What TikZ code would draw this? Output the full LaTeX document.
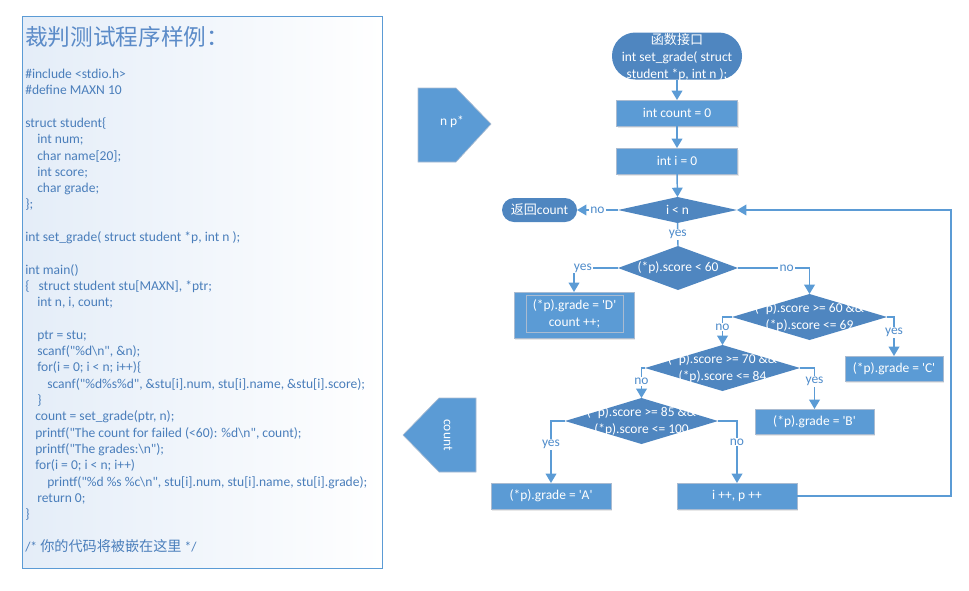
\documentclass[tikz,border=0pt]{standalone}
\usepackage{fontspec}
\setmainfont{Carlito}
\newfontfamily\cf{Carlito}
\newfontfamily\cjk{Noto Sans CJK SC}
\usetikzlibrary{shapes.geometric,arrows.meta,shadows}
\definecolor{lblue}{HTML}{5B9BD5}
\definecolor{dblue}{HTML}{4F86C0}
\definecolor{bedge}{HTML}{A9BBD1}
\definecolor{codec}{HTML}{4A7EBB}
\definecolor{titc}{HTML}{5B8BC8}
\definecolor{labc}{HTML}{4F8CCB}
\definecolor{panelbg}{HTML}{E4EDF8}
\begin{document}
\begin{tikzpicture}[x=0.75pt,y=-0.75pt,
  code/.style={anchor=base west, inner sep=0pt, text=codec, font=\cf\fontsize{10.15pt}{12pt}\selectfont},
  fc/.style={font=\cf\fontsize{10.1pt}{12.75pt}\selectfont},
  box/.style={rectangle, fill=lblue, draw=bedge, line width=0.75pt, inner sep=0pt, outer sep=0pt, text=white, align=center, fc,
    drop shadow={opacity=0.18, shadow xshift=1pt, shadow yshift=-1.2pt}},
  dia/.style={diamond, fill=dblue, draw=none, inner sep=0pt, outer sep=0pt},
  term/.style={rectangle, fill=dblue, draw=none, inner sep=0pt, outer sep=0pt, text=white, align=center, fc},
  wt/.style={text=white, align=center, inner sep=0pt, fc},
  lab/.style={fill=white, inner sep=0.8pt, text=labc, fc},
  conn/.style={draw=lblue, line width=1.1pt, -{Triangle[width=8pt,length=7pt]}},
  plain/.style={draw=lblue, line width=1.1pt},
]
\useasboundingbox (0,0) rectangle (969,590);

% ---------------- left panel ----------------
\draw[draw=lblue, line width=0.75pt, left color=panelbg, right color=white] (22.5,16) rectangle (382.5,568);
\node[anchor=west, inner sep=0pt, text=titc, font=\cjk\fontsize{17pt}{20pt}\selectfont] (title) at (25,37) {裁判测试程序样例：};

\node[code] (c1)  at (25,78.5)  {\#include <stdio.h>};
\node[code] (c2)  at (25,94.8)  {\#define MAXN 10};
\node[code] (c3)  at (25,127.4) {struct student\{};
\node[code] (c4)  at (37,143.7) {int num;};
\node[code] (c5)  at (37,160)   {char name[20];};
\node[code] (c6)  at (37,176.3) {int score;};
\node[code] (c7)  at (37,192.6) {char grade;};
\node[code] (c8)  at (25,208.9) {\};};
\node[code] (c9)  at (25,241.5) {int set\_grade( struct student *p, int n );};
\node[code] (c10) at (25,274.1) {int main()};
\node[code] (c11) at (25,290.4) {\makebox[10pt][l]{\{}struct student stu[MAXN], *ptr;};
\node[code] (c12) at (37,306.7) {int n, i, count;};
\node[code] (c13) at (37,339.3) {ptr = stu;};
\node[code] (c14) at (37,355.6) {scanf("\%d\textbackslash n", \&n);};
\node[code] (c15) at (37,371.9) {for(i = 0; i < n; i++)\{};
\node[code] (c16) at (47,388.2) {scanf("\%d\%s\%d", \&stu[i].num, stu[i].name, \&stu[i].score);};
\node[code] (c17) at (37,404.5) {\}};
\node[code] (c18) at (35,420.8) {count = set\_grade(ptr, n);};
\node[code] (c19) at (35,437.1) {printf("The count for failed (<60): \%d\textbackslash n", count);};
\node[code] (c20) at (35,453.4) {printf("The grades:\textbackslash n");};
\node[code] (c21) at (35,469.7) {for(i = 0; i < n; i++)};
\node[code] (c22) at (47,486)   {printf("\%d \%s \%c\textbackslash n", stu[i].num, stu[i].name, stu[i].grade);};
\node[code] (c23) at (37,502.3) {return 0;};
\node[code] (c24) at (25,518.6) {\}};
\node[code] (c25) at (25,551.2) {/* {\cjk\fontsize{10.6pt}{12pt}\selectfont 你的代码将被嵌在这里} */};

% ---------------- pentagons ----------------
\filldraw[fill=lblue, draw=bedge, line width=0.5pt] (418,88) -- (456,88) -- (491,124) -- (456,162) -- (418,162) -- cycle;
\node[wt] (np) at (452,122) {n p*};
\filldraw[fill=lblue, draw=bedge, line width=0.5pt] (403,435) -- (439,398) -- (476,398) -- (476,472) -- (439,472) -- cycle;
\node[wt, rotate=-90] (cnt2) at (448,435) {count};

% ---------------- flowchart nodes ----------------
\node[term, rounded corners=17.5pt, minimum width=97.5pt, minimum height=35.25pt] (start) at (677,56) {};
\node[wt] (startt) at (677,57) {{\cjk\fontsize{9.8pt}{12.75pt}\selectfont 函数接口}\\int set\_grade( struct\\student *p, int n );};

\node[box, minimum width=90.75pt, minimum height=19.5pt] (cnt) at (677,113) {int count = 0};
\node[box, minimum width=90.75pt, minimum height=19.5pt] (iinit) at (677,161) {int i = 0};

\node[dia, minimum width=89.25pt, minimum height=19.5pt] (dI) at (677.5,210) {};
\node[wt] (dIt) at (677.5,210) {i < n};

\node[term, rounded corners=9pt, minimum width=56.25pt, minimum height=18pt] (ret) at (539.5,210) {{\cjk\fontsize{9.8pt}{12pt}\selectfont 返回}count};

\node[dia, minimum width=90pt, minimum height=33pt] (d1) at (678,268) {};
\node[wt] (d1t) at (678,268) {(*p).score < 60};

\node[box, minimum width=90pt, minimum height=34.5pt] (D) at (574,315) {};
\node[draw=bedge, line width=0.75pt, minimum width=72.75pt, minimum height=27.75pt, inner sep=0pt, wt] (Dt) at (574.5,314) {(*p).grade = 'D'\\count ++;};

\node[dia, minimum width=116.25pt, minimum height=34.5pt] (d2) at (809.5,317) {};
\node[wt] (d2t) at (809.5,317) {(*p).score >= 60 \&\&\\(*p).score <= 69};

\node[box, minimum width=73.5pt, minimum height=18.75pt] (C) at (894,368.5) {(*p).grade = 'C'};

\node[dia, minimum width=116.25pt, minimum height=34.5pt] (d3) at (722.5,368) {};
\node[wt] (d3t) at (722.5,368) {(*p).score >= 70 \&\&\\(*p).score <= 84};

\node[box, minimum width=89.25pt, minimum height=18.75pt] (B) at (814.5,421.5) {(*p).grade = 'B'};

\node[dia, minimum width=114.75pt, minimum height=34.5pt] (d4) at (641.5,421) {};
\node[wt] (d4t) at (641.5,421) {(*p).score >= 85 \&\&\\(*p).score <= 100};

\node[box, minimum width=90pt, minimum height=19.5pt] (A) at (551,496) {(*p).grade = 'A'};
\node[box, minimum width=90pt, minimum height=19.5pt] (inc) at (737,496) {i ++, p ++};

% ---------------- connectors ----------------
\draw[conn] (start.south) -- (cnt.north);
\draw[conn] (cnt.south) -- (iinit.north);
\draw[conn] (iinit.south) -- (dI.north);
\draw[conn] (dI.west) -- node[lab, pos=0.5] {no} (ret.east);
\draw[plain] (dI.south) -- node[lab, pos=0.5] {yes} (d1.north);
\draw[conn] (d1.west) -| node[lab, pos=0.40] {yes} (D.north);
\draw[conn] (d1.east) -| node[lab, pos=0.34] {no} (d2.north);
\draw[conn] (d2.west) -| node[lab, pos=0.68] {no} (d3.north);
\draw[conn] (d2.east) -| node[lab, pos=0.70] {yes} (C.north);
\draw[conn] (d3.west) -| node[lab, pos=0.72] {no} (d4.north);
\draw[conn] (d3.east) -| node[lab, pos=0.66] {yes} (B.north);
\draw[conn] (d4.west) -| node[lab, pos=0.69] {yes} (A.north);
\draw[conn] (d4.east) -| node[lab, pos=0.67] {no} (inc.north);
\coordinate (lp) at (951,496);
\draw[conn] (inc.east) -- (lp) |- (dI.east);
\end{tikzpicture}
\end{document}
